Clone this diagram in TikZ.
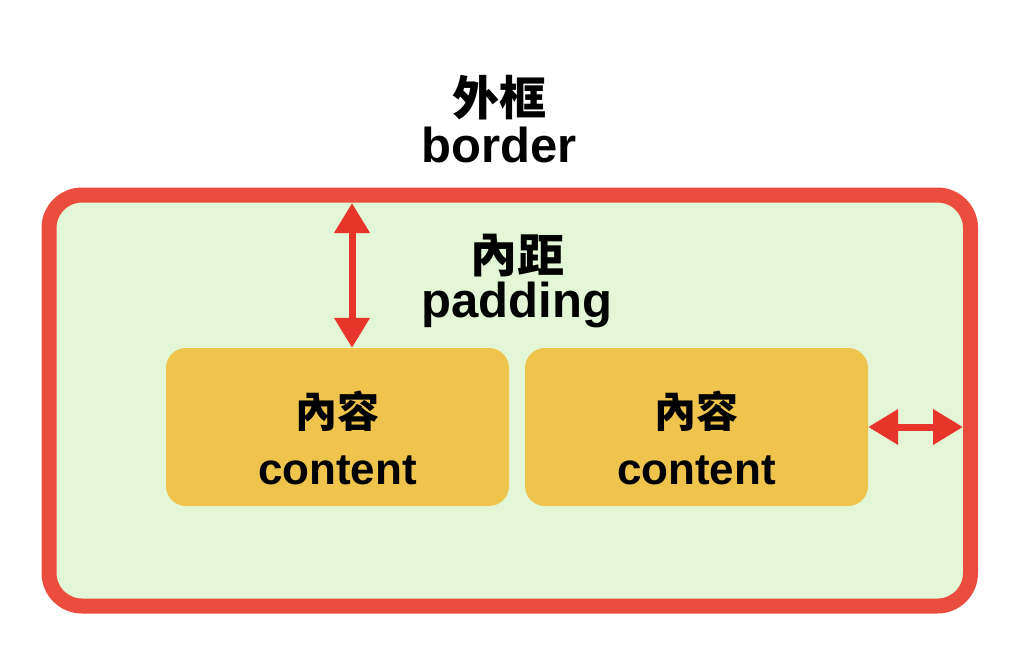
\documentclass[tikz,border=0pt]{standalone}
\usepackage{fontspec}
\setmainfont{Liberation Sans}
\newfontfamily\cjk{Noto Sans CJK TC}
\usetikzlibrary{arrows.meta}
\definecolor{bordercol}{HTML}{EA4C3E}
\definecolor{padfill}{HTML}{E3F6D6}
\definecolor{boxcol}{HTML}{EEC44C}
\definecolor{arrowcol}{HTML}{E8352B}
\tikzset{
  contentbox/.style={draw=none, fill=boxcol, rounded corners=20pt, minimum width=343pt, minimum height=158pt, inner sep=0pt},
  zhlabel/.style={font=\cjk\bfseries\fontsize{47}{55}\selectfont, inner sep=0pt},
  enlabel/.style={font=\bfseries\fontsize{49}{55}\selectfont, inner sep=0pt},
  zhcontent/.style={font=\cjk\bfseries\fontsize{42}{50}\selectfont, inner sep=0pt},
  encontent/.style={font=\bfseries\fontsize{44}{50}\selectfont, inner sep=0pt},
  measure/.style={draw=arrowcol, line width=7pt, {Triangle[length=30pt,width=34pt]}-{Triangle[length=30pt,width=34pt]}},
}
\begin{document}
\begin{tikzpicture}[x=1pt, y=-1pt]
\useasboundingbox (0,0) rectangle (1024,653);
% border
\draw[draw=bordercol, fill=padfill, line width=15pt, rounded corners=33pt] (49,195) rectangle (970.5,606);
% titles
\node[zhlabel] (bzh) at (499,98) {外框};
\node[enlabel] (ben) at (499,145) {border};
\node[zhlabel] (pzh) at (517,256) {內距};
\node[enlabel] (pen) at (517,305) {padding};
% content boxes
\node[contentbox] (box1) at (337.5,427) {};
\node[contentbox] (box2) at (696.5,427) {};
\node[zhcontent] (c1zh) at (337.5,411) {內容};
\node[encontent] (c1en) at (337.5,470) {content};
\node[zhcontent] (c2zh) at (696.5,411) {內容};
\node[encontent] (c2en) at (696.5,470) {content};
% measures
\coordinate (padtop) at (352,203);
\coordinate (rightinner) at (963,427);
\draw[measure] (padtop) -- (padtop |- box1.north);
\draw[measure] (box2.east) -- (rightinner);
\end{tikzpicture}
\end{document}
